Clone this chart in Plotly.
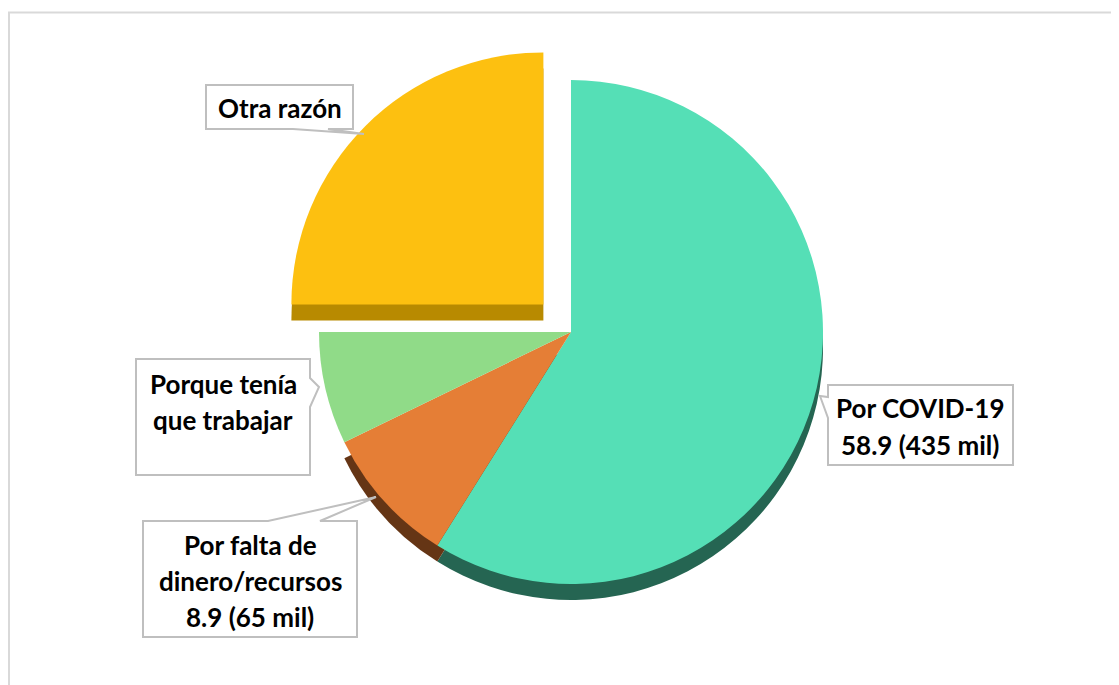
import plotly.graph_objects as go

# The browser page adds an 8 px body margin, so the figure is drawn 8 px in from the corner
PAGE_MARGIN = 8
W, H = 1119 - PAGE_MARGIN, 685 - PAGE_MARGIN

# Data
categories = ["Por COVID-19", "Por falta de dinero/recursos", "Porque tenía que trabajar", "Otra razón"]
values = [58.9, 8.9, 7.2, 25.0]
top_colors = ["#55DFB6", "#E57E36", "#90DB88", "#FDC010"]
side_colors = ["#256552", "#653515", "rgba(0,0,0,0)", "#B88A00"]

# Layout in page pixels
R = 252
PULL = 0.155
CX, CY = 571, 332
DEPTH = 16


def xp(x):
    return (x - PAGE_MARGIN) / W


def yp(y):
    return 1 - (y - PAGE_MARGIN) / H


def pie(cy, colors, name):
    half = R * (1 + PULL)
    return go.Pie(
        labels=categories, values=values, sort=False, direction="clockwise", rotation=0,
        pull=[0, 0, 0, PULL], textinfo="none", showlegend=False, name=name,
        marker=dict(colors=colors, line=dict(width=0)),
        domain=dict(x=[xp(CX - half), xp(CX + half)], y=[yp(cy + half), yp(cy - half)]),
    )


fig = go.Figure([pie(CY + DEPTH, side_colors, "side"), pie(CY, top_colors, "top")])

# Callouts: outline incl. pointer, in page pixels
callouts = [
    [(206, 85), (353, 85), (353, 129), (328, 129), (364, 134), (293, 129), (206, 129)],
    [(136, 359), (310, 359), (310, 378), (319, 387), (310, 407), (310, 475), (136, 475)],
    [(143, 521), (268, 521), (376, 497), (320, 521), (357, 521), (357, 637), (143, 637)],
    [(828, 385), (1013, 385), (1013, 465), (828, 465), (828, 418), (820, 396), (828, 397)],
]
shapes = [dict(type="rect", xref="paper", yref="paper", x0=xp(9), y0=yp(12.5), x1=xp(1130), y1=yp(700),
               line=dict(color="#D9D9D9", width=2), fillcolor="rgba(0,0,0,0)", layer="below")]
for c in callouts:
    path = "M " + " L ".join(f"{xp(x):.5f} {yp(y):.5f}" for x, y in c) + " Z"
    shapes.append(dict(type="path", xref="paper", yref="paper", path=path,
                       line=dict(color="#BFBFBF", width=2), fillcolor="#FFFFFF"))

label_lines = [
    ("Otra razón", 280, 108),
    ("Porque tenía", 223, 384),
    ("que trabajar", 223, 420),
    ("Por falta de", 250, 545),
    ("dinero/recursos", 250, 581),
    ("8.9 (65 mil)", 250, 617),
    ("Por COVID-19", 920, 408),
    ("58.9 (435 mil)", 920, 445),
]
annotations = [dict(text=t, x=xp(x), y=yp(y), xref="paper", yref="paper", showarrow=False,
                    xanchor="center", yanchor="middle",
                    font=dict(family="Lato", size=26, color="#000000", weight="bold"))
               for t, x, y in label_lines]

fig.update_layout(width=W, height=H, margin=dict(l=0, r=0, t=0, b=0), autosize=False,
                  paper_bgcolor="#FFFFFF", shapes=shapes, annotations=annotations)
fig.write_html("out.html")
